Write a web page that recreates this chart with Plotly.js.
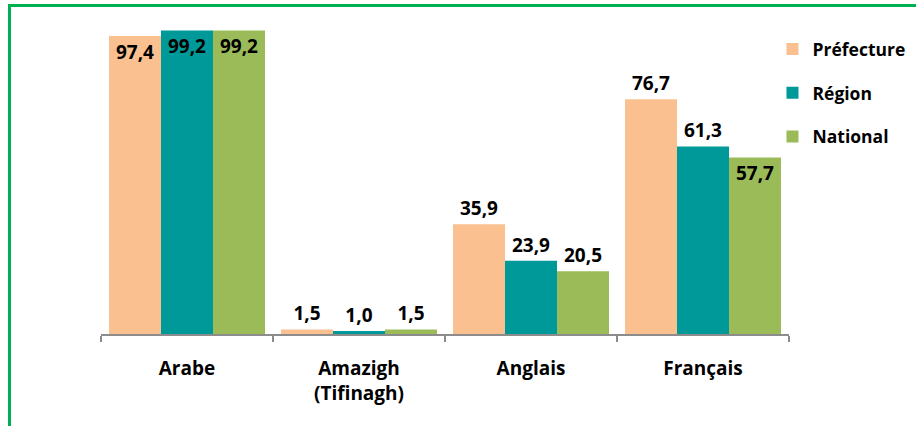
<!DOCTYPE html>
<html>
<head>
<meta charset="utf-8">
<script src="https://cdn.plot.ly/plotly-3.0.1.min.js"></script>
<style>
    body { margin: 0; background: #fff; }
    #wrap { position: relative; width: 916px; height: 426px; overflow: hidden; }
    #chart { position: absolute; left: 0; top: 0; width: 916px; height: 426px; }
    #frame { position: absolute; left: 8px; top: 4px; width: 920px; height: 440px;
             border-left: 3px solid #00b050; border-top: 3px solid #00b050; pointer-events: none; }
</style>
</head>
<body>
<div id="wrap">
    <div id="chart"></div>
    <div id="frame"></div>
</div>
<script>
// Langues lues et écrites (%)
const categories = ["Arabe", "Amazigh<br>(Tifinagh)", "Anglais", "Français"];
const prefecture = [97.4, 1.5, 35.9, 76.7];
const region = [99.2, 1.0, 23.9, 61.3];
const national = [99.2, 1.5, 20.5, 57.7];

const seriesNames = ["Préfecture", "Région", "National"];
const colors = ["#FAC090", "#009999", "#9BBB59"];

// label placement like the original (some labels sit inside the bars)
const positions = [
    ["inside", "outside", "outside", "outside"],
    ["inside", "outside", "outside", "outside"],
    ["inside", "outside", "outside", "inside"]
];

function fmt(v) {
    return v.toFixed(1).replace(".", ",");
}

const font = "'Open Sans', Lato, sans-serif";

let traces = [prefecture, region, national].map(function (vals, i) {
    return {
        type: "bar",
        name: seriesNames[i],
        x: categories,
        y: vals,
        text: vals.map(fmt),
        textposition: positions[i],
        insidetextanchor: "end",
        constraintext: "none",
        cliponaxis: false,
        textfont: { family: font, size: 19, color: "#000", weight: "bold" },
        marker: { color: colors[i], line: { width: 0 } },
        legendgroup: "g" + i,
        hoverinfo: "skip"
    };
});

let layout = {
    width: 916,
    height: 426,
    margin: { l: 101, r: 127, t: 28, b: 92, autoexpand: false },
    paper_bgcolor: "#fff",
    plot_bgcolor: "#fff",
    font: { family: font, size: 18, color: "#000", weight: "bold" },
    barmode: "group",
    bargap: 0.093,
    bargroupgap: 0,
    showlegend: true,
    legend: {
        x: 0.976, y: 0.99,
        xanchor: "left", yanchor: "top",
        traceorder: "grouped",
        tracegroupgap: 18,
        font: { family: font, size: 17.5, color: "#000", weight: "bold" },
        itemwidth: 30
    },
    xaxis: {
        type: "category",
        showline: true,
        linecolor: "#8c8c8c",
        linewidth: 2,
        ticks: "outside",
        tickson: "boundaries",
        ticklen: 6,
        tickwidth: 2,
        tickcolor: "#8c8c8c",
        ticklabelstandoff: 16,
        tickfont: { family: font, size: 19, color: "#000", weight: "bold" },
        showgrid: false
    },
    yaxis: {
        range: [0, 100],
        visible: false,
        showgrid: false,
        zeroline: false
    }
};

Plotly.newPlot("chart", traces, layout, { displayModeBar: false, staticPlot: true });
</script>
</body>
</html>
